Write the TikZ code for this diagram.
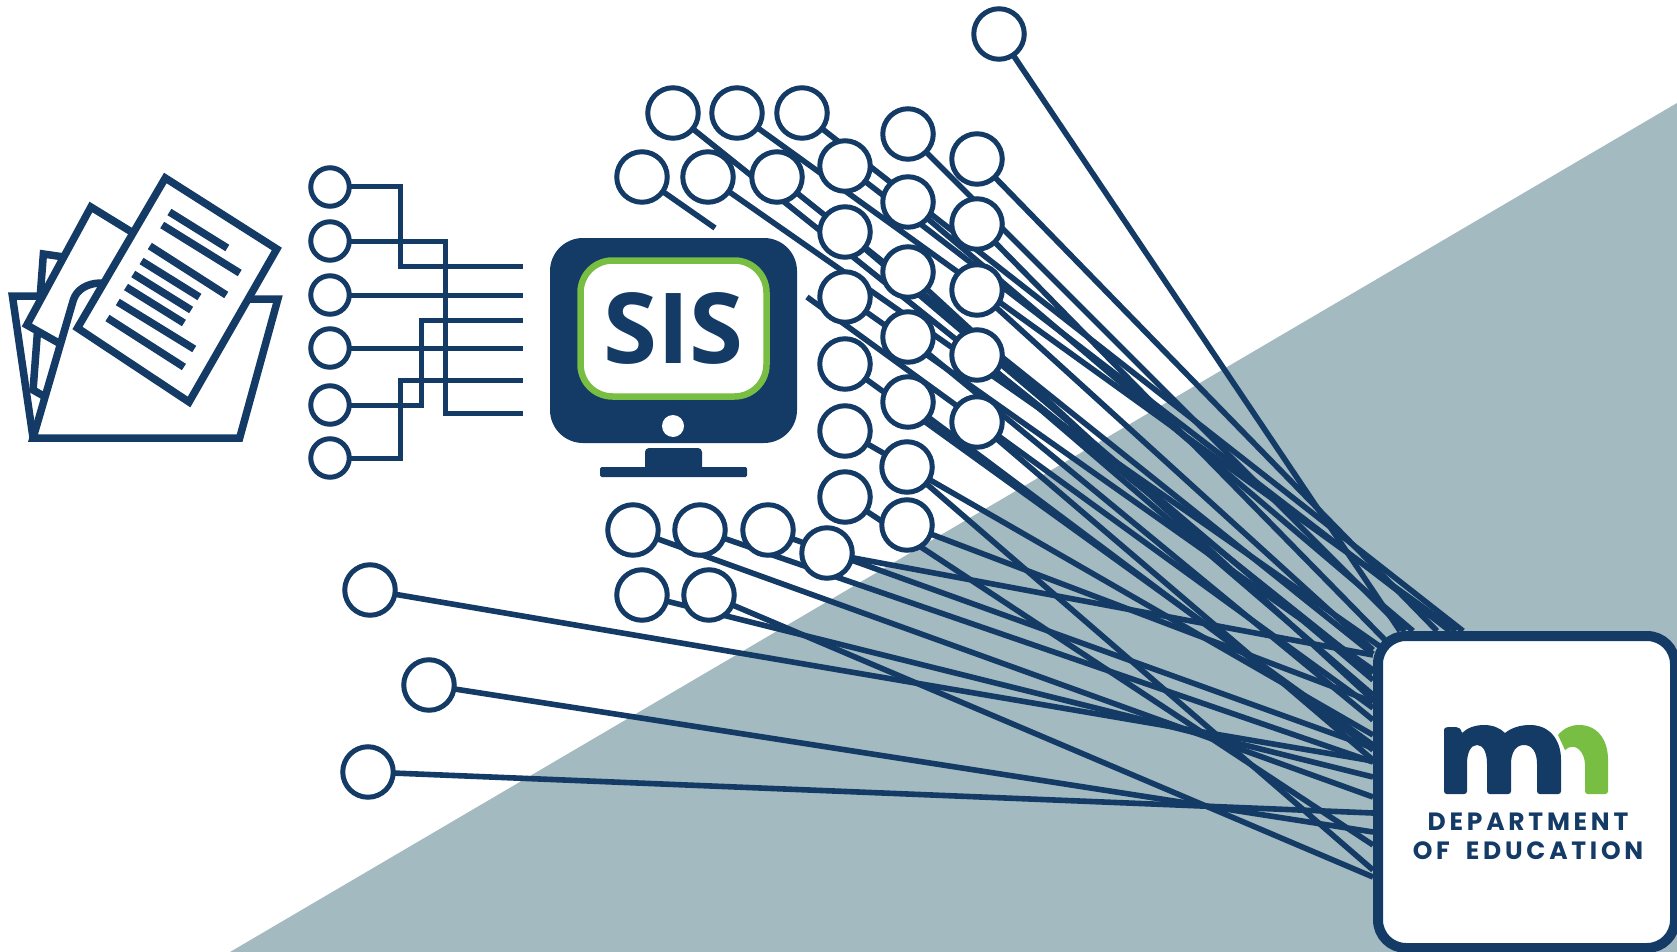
\documentclass[tikz,border=0pt]{standalone}
\usepackage{fontspec}
\usetikzlibrary{backgrounds}
\newfontfamily\sisfont{Open Sans}
\newfontfamily\depfont[LetterSpace=15]{Poppins}
\definecolor{navy}{HTML}{143A66}
\definecolor{leaf}{HTML}{78BE43}
\definecolor{slate}{HTML}{A4BAC1}
\tikzset{
  wire/.style={draw=navy,line width=5pt},
  fan/.style={draw=navy,line width=5.6pt},
  pin/.style={circle,draw=navy,fill=white,line width=5pt,minimum size=50.5pt,inner sep=0pt},
  tab/.style={circle,draw=navy,fill=white,line width=5pt,minimum size=38.5pt,inner sep=0pt},
  sheet/.style={draw=navy,fill=white,line width=7.5pt,miter limit=10},
  textline/.style={draw=navy,line width=7.5pt},
  solid navy/.style={fill=navy,draw=none}
}
\begin{document}
\begin{tikzpicture}[x=1pt,y=-1pt]
\useasboundingbox (0,0) rectangle (1677,952);
\begin{pgfonlayer}{background}
  \fill[slate] (230,952) -- (1677,103) -- (1677,952) -- cycle;
\end{pgfonlayer}
% pins with their wires to the box
\foreach \n/\x/\y/\tx/\ty in {
  1/999/34/1400/631,
  2/673/113/1373/673,
  3/737/113/1456/631,
  4/802/113/1463/631,
  6/708/177/1385/650,
  7/777/177/1373/654,
  8/845/166/1450/631,
  9/845/232/1373/680,
  10/845/297/1373/670,
  11/845/364/1373/745,
  12/845/431/1373/735,
  13/845/497/1373/845,
  14/908/134/1405/631,
  15/908/202/1413/631,
  16/908/272/1373/700,
  17/908/337/1373/720,
  18/908/402/1373/750,
  19/907/467/1373/870,
  20/907/525/1373/702,
  21/977/159/1437/631,
  22/977/224/1385/640,
  23/977/290/1373/650,
  24/977/355/1373/695,
  25/977/422/1373/760,
  26/633/530/1373/797,
  27/700/530/1373/762,
  28/768/530/1373/748,
  29/827/553/1373/655,
  30/642/595/1373/777,
  31/709/595/1373/877,
  32/370/590/1373/761,
  33/429/685/1373/832,
  34/368/772/1373/813} {
  \node[pin] (c\n) at (\x,\y) {};
  \coordinate (t\n) at (\tx,\ty);
  \begin{pgfonlayer}{background}
    \draw[fan] (c\n.center) -- (t\n);
  \end{pgfonlayer}
}
% the pin whose wire passes behind the monitor
\node[pin] (c5) at (642,177) {};
\coordinate (stopA) at (715,228);
\coordinate (startB) at (807,297);
\coordinate (t5) at (1373,708);
\begin{pgfonlayer}{background}
  \draw[fan] (c5.center) -- (stopA);
  \draw[fan] (startB) -- (t5);
\end{pgfonlayer}
% folder and papers
\begin{scope}[xscale=1.033]
\draw[sheet] (32,438) -- (12,296) -- (36,296);
\draw[sheet] (44,397) -- (32,390) -- (42,254) -- (62,257) -- (100,300) -- cycle;
\draw[sheet] (62,346) -- (26,325) -- (88,207) -- (140,240) -- (110,300) -- cycle;
\draw[sheet,line join=miter] (32,438) -- (232,438) -- (269,299) -- (235,299) -- (150,283) -- (98,283)
  .. controls (84,283) and (74,290) .. (71,300) -- cycle;
\draw[sheet] (160,178) -- (268,249) -- (183,402) -- (75,328) -- cycle;
\foreach \k/\ax/\ay/\bx/\by in {
  1/164/212/220/248, 2/157/225/232/273, 3/145/246/219/295, 4/137/261/193/297,
  5/129/274/185/310, 6/122/287/178/323, 7/114/302/188/349, 8/104/318/178/367} {
  \coordinate (la\k) at (\ax,\ay);
  \coordinate (lb\k) at (\bx,\by);
  \draw[textline] (la\k) -- (lb\k);
}
\end{scope}
% small circles and their elbow connectors
\node[tab] (l1) at (330,187) {};
\node[tab] (l2) at (330,241) {};
\node[tab] (l3) at (330,295) {};
\node[tab] (l4) at (330,348) {};
\node[tab] (l5) at (330,405) {};
\node[tab] (l6) at (330,458) {};
\coordinate (b1) at (400,266); \coordinate (e1) at (523,266);
\coordinate (b2) at (445,413); \coordinate (e2) at (523,413);
\coordinate (e3) at (523,295);
\coordinate (e4) at (523,348);
\coordinate (b5) at (421,320); \coordinate (e5) at (523,320);
\coordinate (b6) at (400,380); \coordinate (e6) at (523,380);
\begin{pgfonlayer}{background}
  \draw[wire] (l1.center) -| (b1) -- (e1);
  \draw[wire] (l2.center) -| (b2) -- (e2);
  \draw[wire] (l3.center) -- (e3);
  \draw[wire] (l4.center) -- (e4);
  \draw[wire] (l5.center) -| (b5) -- (e5);
  \draw[wire] (l6.center) -| (b6) -- (e6);
\end{pgfonlayer}
% monitor
\node[solid navy,rounded corners=33pt,minimum width=247pt,minimum height=205pt,inner sep=0pt] (screen) at (673.5,340.5) {};
\node[draw=leaf,fill=white,line width=6.5pt,rounded corners=32pt,minimum width=186pt,minimum height=136pt,inner sep=0pt] (panel) at (673.5,328.5)
  {};
\node[inner sep=0pt,text=navy] (sis) at (673.5,328) {\sisfont\bfseries\fontsize{98}{98}\selectfont SIS};
\node[circle,fill=white,minimum size=22pt,inner sep=0pt] (dot) at (673,426) {};
\node[solid navy,rounded corners=4pt,minimum width=57pt,minimum height=24pt,inner sep=0pt] (neck) at (673.5,460) {};
\node[solid navy,rounded corners=1.5pt,minimum width=147pt,minimum height=10pt,inner sep=0pt] (foot) at (673.5,472) {};
% logo box
\node[draw=navy,fill=white,line width=10pt,rounded corners=28pt,minimum width=297pt,minimum height=312pt,inner sep=0pt] (box) at (1526.5,792) {};
\fill[navy] (1444,732) .. controls (1444,728) and (1445,727) .. (1448,727) -- (1456,727)
  .. controls (1459,727) and (1461,729) .. (1462,733)
  .. controls (1467,728) and (1475,725) .. (1484,725)
  .. controls (1493,725) and (1500,728) .. (1505,733)
  .. controls (1511,728) and (1520,725) .. (1530,725)
  .. controls (1549,725) and (1561,739) .. (1561,760) -- (1561,791)
  .. controls (1561,793) and (1560,794) .. (1558,794) -- (1540,794)
  .. controls (1538,794) and (1537,793) .. (1537,791) -- (1537,764)
  .. controls (1537,752) and (1532,745) .. (1524,745)
  .. controls (1516,745) and (1511,752) .. (1511,764) -- (1511,791)
  .. controls (1511,793) and (1510,794) .. (1508,794) -- (1490,794)
  .. controls (1488,794) and (1487,793) .. (1487,791) -- (1487,764)
  .. controls (1487,752) and (1483,745) .. (1477,745)
  .. controls (1471,745) and (1467,752) .. (1467,764) -- (1467,791)
  .. controls (1467,793) and (1466,794) .. (1464,794) -- (1447,794)
  .. controls (1445,794) and (1444,793) .. (1444,791) -- cycle;
\fill[leaf] (1558,735) .. controls (1564,728) and (1571,725) .. (1579,725)
  .. controls (1597,725) and (1608,739) .. (1608,760) -- (1608,791)
  .. controls (1608,793) and (1607,794) .. (1605,794) -- (1588,794)
  .. controls (1586,794) and (1585,793) .. (1585,791) -- (1585,765)
  .. controls (1585,752) and (1575,741) .. (1565,750) -- cycle;
\node[text=navy,inner sep=0pt] (dep) at (1528,822) {\depfont\bfseries\fontsize{25}{25}\selectfont DEPARTMENT};
\node[text=navy,inner sep=0pt] (edu) at (1528,851) {\depfont\bfseries\fontsize{25}{25}\selectfont OF\hspace{7pt} EDUCATION};
\end{tikzpicture}
\end{document}
